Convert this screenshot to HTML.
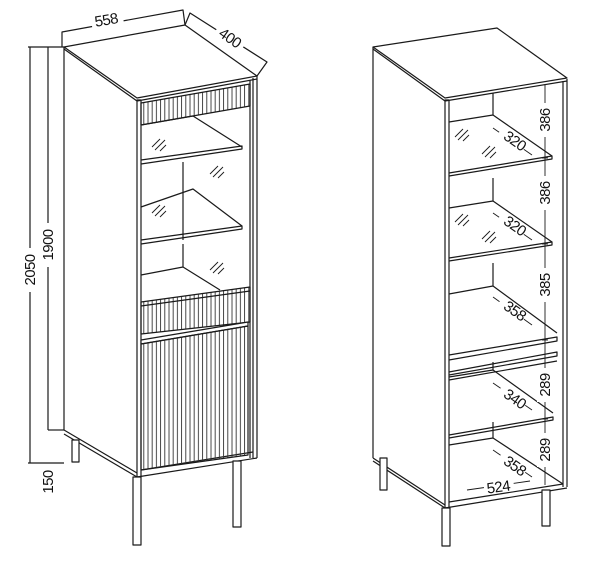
<!DOCTYPE html>
<html><head><style>
html,body{margin:0;padding:0;background:#fff;}
svg{display:block;}
text{font-family:"Liberation Sans",sans-serif;font-size:15px;fill:#111;font-weight:normal;letter-spacing:-0.6px}
</style></head><body>
<svg width="603" height="566" viewBox="0 0 603 566" xmlns="http://www.w3.org/2000/svg">
<defs>
<pattern id="fl" patternUnits="userSpaceOnUse" width="4.2" height="10">
<line x1="1" y1="0" x2="1" y2="10" stroke="#333" stroke-width="0.9"/>
</pattern>
</defs>
<g fill="none" stroke="#1a1a1a" stroke-width="1.2" stroke-linejoin="round">
<polyline points="62,47 62,32 183,10 185,25"/>
<polyline points="185,25 190,13 267,62 257,76"/>
<line x1="28" y1="47" x2="64" y2="47"/>
<line x1="30" y1="47" x2="30" y2="463"/>
<line x1="28" y1="463" x2="64" y2="463"/>
<line x1="48" y1="47" x2="48" y2="430"/>
<line x1="48" y1="430" x2="64" y2="430"/>
<polygon points="64,47 185,25 257,76 137,98" fill="#fff"/>
<polyline points="64,49 137,101 257,79"/>
<line x1="64" y1="47" x2="64" y2="430"/>
<line x1="64" y1="430" x2="137" y2="473"/>
<line x1="64" y1="434" x2="137" y2="477"/>
<rect x="137" y="100" width="4" height="377"/>
<line x1="250" y1="80" x2="250" y2="458"/>
<line x1="253" y1="78" x2="253" y2="458"/>
<line x1="257" y1="76" x2="257" y2="458"/>
<line x1="137" y1="477" x2="257" y2="458"/>
<line x1="141" y1="470" x2="253" y2="452"/>
<polygon points="141,103 250,84 250,106 141,125" fill="url(#fl)"/>
<polyline points="141,125 193,116 242,147"/>
<polyline points="141,160 242,146 242,149 141,164"/>
<line x1="183" y1="162" x2="183" y2="240"/>
<polyline points="141,207 193,189 242,226"/>
<polyline points="141,240 242,226 242,229 141,244"/>
<line x1="183" y1="244" x2="183" y2="267"/>
<polyline points="141,275 183,267 220,290"/>
<g stroke-width="0.9">
<line x1="152" y1="147" x2="160" y2="139"/><line x1="155" y1="150" x2="165" y2="140"/><line x1="160" y1="151" x2="166" y2="145"/>
<line x1="210" y1="174" x2="218" y2="166"/><line x1="213" y1="177" x2="223" y2="167"/><line x1="218" y1="178" x2="224" y2="172"/>
<line x1="152" y1="213" x2="160" y2="205"/><line x1="155" y1="216" x2="165" y2="206"/><line x1="160" y1="217" x2="166" y2="211"/>
<line x1="210" y1="270" x2="218" y2="262"/><line x1="213" y1="273" x2="223" y2="263"/><line x1="218" y1="274" x2="224" y2="268"/>
</g>
<polygon points="141,302 250,287 250,322 141,334" fill="url(#fl)"/>
<line x1="141" y1="306" x2="250" y2="291"/>
<polygon points="141,340 248,322 248,326 141,344" fill="#fff"/>
<polygon points="141,344 248,326 248,455 141,470" fill="url(#fl)"/>
<rect x="72" y="440" width="7" height="22" fill="#fff"/>
<rect x="133" y="477" width="8" height="68" fill="#fff"/>
<rect x="233" y="461" width="8" height="66" fill="#fff"/>

<polygon points="373,47 497,28 567,78 445,98" fill="#fff"/>
<polyline points="373,49 445,101 567,81"/>
<line x1="373" y1="47" x2="373" y2="458"/>
<line x1="373" y1="458" x2="445" y2="505"/>
<line x1="373" y1="461" x2="445" y2="508"/>
<rect x="445" y="100" width="4" height="408"/>
<line x1="563" y1="81" x2="563" y2="487"/>
<line x1="567" y1="79" x2="567" y2="487"/>
<line x1="445" y1="508" x2="567" y2="488"/>
<line x1="449" y1="502" x2="563" y2="484"/>
<line x1="493" y1="93" x2="493" y2="115"/>
<polyline points="449,122 493,115 552,156"/>
<polyline points="449,173 552,156 552,159 449,176"/>
<line x1="493" y1="178" x2="493" y2="201"/>
<polyline points="449,208 493,201 552,242"/>
<polyline points="449,258 552,242 552,245 449,261"/>
<line x1="493" y1="263" x2="493" y2="286"/>
<polyline points="449,294 493,286 557,333"/>
<polyline points="449,355 557,337 557,341 449,360"/>
<polyline points="449,372 557,352 557,356 449,375"/>
<line x1="449" y1="380" x2="557" y2="361"/>
<line x1="493" y1="362" x2="493" y2="370"/>
<polyline points="449,377 493,370 553,413"/>
<polyline points="449,435 553,417 553,420 449,438"/>
<line x1="493" y1="422" x2="493" y2="438"/>
<polyline points="449,445 493,438 563,484"/>
<g stroke-width="0.9">
<line x1="455" y1="137" x2="463" y2="129"/><line x1="458" y1="140" x2="468" y2="130"/><line x1="463" y1="141" x2="469" y2="135"/>
<line x1="482" y1="154" x2="490" y2="146"/><line x1="485" y1="157" x2="495" y2="147"/><line x1="490" y1="158" x2="496" y2="152"/>
<line x1="455" y1="222" x2="463" y2="214"/><line x1="458" y1="225" x2="468" y2="215"/><line x1="463" y1="226" x2="469" y2="220"/>
<line x1="482" y1="239" x2="490" y2="231"/><line x1="485" y1="242" x2="495" y2="232"/><line x1="490" y1="243" x2="496" y2="237"/>
<line x1="493" y1="128" x2="532" y2="155"/>
<line x1="493" y1="213" x2="532" y2="240"/>
<line x1="493" y1="297" x2="532" y2="325"/>
<line x1="493" y1="383" x2="532" y2="410"/>
<line x1="493" y1="450" x2="532" y2="477"/>
<line x1="467" y1="490" x2="530" y2="481"/>
<line x1="545" y1="85" x2="545" y2="485"/>
<line x1="542" y1="158" x2="548" y2="158"/>
<line x1="542" y1="244" x2="548" y2="244"/>
<line x1="542" y1="340" x2="548" y2="340"/>
<line x1="542" y1="419" x2="548" y2="419"/>
</g>
<rect x="380" y="458" width="7" height="32" fill="#fff"/>
<rect x="442" y="508" width="8" height="38" fill="#fff"/>
<rect x="542" y="490" width="8" height="36" fill="#fff"/>
</g>
<g>
<rect x="91" y="12" width="32" height="14" fill="#fff" transform="rotate(-10 106 19)"/>
<text x="106" y="25" text-anchor="middle" transform="rotate(-10 106 19)">558</text>
<rect x="214" y="31" width="32" height="14" fill="#fff" transform="rotate(35 230 38)"/>
<text x="230" y="43" text-anchor="middle" transform="rotate(35 230 38)">400</text>
<rect x="22" y="248" width="16" height="44" fill="#fff"/>
<text x="0" y="0" text-anchor="middle" transform="translate(35 270) rotate(-90)">2050</text>
<rect x="40" y="223" width="16" height="44" fill="#fff"/>
<text x="0" y="0" text-anchor="middle" transform="translate(53 245) rotate(-90)">1900</text>
<text x="0" y="0" text-anchor="middle" transform="translate(53 482) rotate(-90)">150</text>
<rect x="537" y="103" width="16" height="34" fill="#fff"/><text transform="translate(550 120) rotate(-90)" text-anchor="middle">386</text>
<rect x="537" y="176" width="16" height="34" fill="#fff"/><text transform="translate(550 193) rotate(-90)" text-anchor="middle">386</text>
<rect x="537" y="268" width="16" height="34" fill="#fff"/><text transform="translate(550 285) rotate(-90)" text-anchor="middle">385</text>
<rect x="537" y="368" width="16" height="34" fill="#fff"/><text transform="translate(550 385) rotate(-90)" text-anchor="middle">289</text>
<rect x="537" y="433" width="16" height="34" fill="#fff"/><text transform="translate(550 450) rotate(-90)" text-anchor="middle">289</text>
<rect x="497" y="134" width="30" height="13" fill="#fff" transform="rotate(35 512 140)"/><text transform="translate(512 145) rotate(35)" text-anchor="middle">320</text>
<rect x="497" y="219" width="30" height="13" fill="#fff" transform="rotate(35 512 225)"/><text transform="translate(512 230) rotate(35)" text-anchor="middle">320</text>
<rect x="497" y="304" width="30" height="13" fill="#fff" transform="rotate(35 512 310)"/><text transform="translate(512 315) rotate(35)" text-anchor="middle">358</text>
<rect x="497" y="392" width="30" height="13" fill="#fff" transform="rotate(35 512 398)"/><text transform="translate(512 403) rotate(35)" text-anchor="middle">340</text>
<rect x="497" y="459" width="30" height="13" fill="#fff" transform="rotate(35 512 465)"/><text transform="translate(512 470) rotate(35)" text-anchor="middle">358</text>
<rect x="484" y="480" width="30" height="13" fill="#fff" transform="rotate(-8 499 487)"/><text transform="translate(499 492) rotate(-8)" text-anchor="middle">524</text>
</g>
</svg>
</body></html>
